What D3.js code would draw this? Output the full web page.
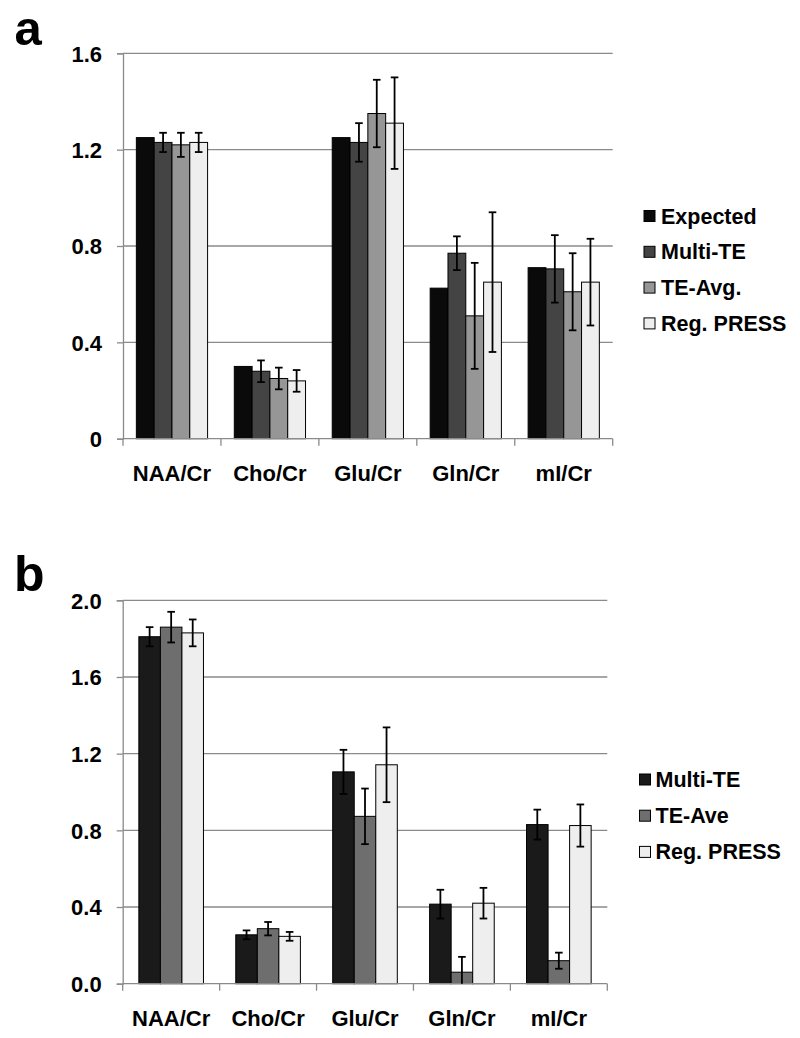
<!DOCTYPE html>
<html><head><meta charset="utf-8">
<script src="https://cdn.jsdelivr.net/npm/d3@7"></script>
<style>body{margin:0;background:#fff}svg{display:block}text{font-family:"Liberation Sans",Arial,sans-serif;font-weight:bold;fill:#000}</style>
</head><body>
<script>
const categories = ["NAA/Cr","Cho/Cr","Glu/Cr","Gln/Cr","mI/Cr"];

// Panel a
const seriesA = ["Expected","Multi-TE","TE-Avg.","Reg. PRESS"];
const colorsA = ["#0a0a0a","#444444","#969696","#eeeeee"];
const expectedA = [1.25,0.30,1.25,0.625,0.71];
const multiTEA = [1.23,0.28,1.23,0.77,0.705];
const teAvgA = [1.22,0.25,1.35,0.51,0.61];
const regPressA = [1.23,0.24,1.31,0.65,0.65];
const errExpectedA = [null,null,null,null,null];
const errMultiTEA = [0.04,0.045,0.08,0.07,0.14];
const errTeAvgA = [0.05,0.045,0.14,0.22,0.16];
const errRegPressA = [0.04,0.045,0.19,0.29,0.18];
const ticksA = [0,0.4,0.8,1.2,1.6];
const tickLabelsA = ["0","0.4","0.8","1.2","1.6"];

// Panel b
const seriesB = ["Multi-TE","TE-Ave","Reg. PRESS"];
const colorsB = ["#1a1a1a","#6e6e6e","#eeeeee"];
const multiTEB = [1.81,0.255,1.105,0.415,0.83];
const teAveB = [1.86,0.287,0.873,0.06,0.12];
const regPressB = [1.83,0.247,1.142,0.42,0.825];
const errMultiTEB = [0.05,0.023,0.115,0.075,0.078];
const errTeAveB = [0.08,0.035,0.145,0.08,0.042];
const errRegPressB = [0.07,0.023,0.195,0.08,0.11];
const ticksB = [0,0.4,0.8,1.2,1.6,2.0];
const tickLabelsB = ["0.0","0.4","0.8","1.2","1.6","2.0"];

const svg = d3.select("body").append("svg").attr("width",800).attr("height",1038);

function panel(cfg){
  const g = svg.append("g");
  const x0 = d3.scaleBand().domain(categories).range([cfg.left,cfg.right]).padding(0);
  const bw = x0.bandwidth();
  const n = cfg.series.length;
  const w = bw/(n+1.5);
  const x1 = d3.scaleBand().domain(cfg.series).range([0.75*w, bw-0.75*w]).padding(0);
  const y = d3.scaleLinear().domain([0,cfg.max]).range([cfg.bottom,cfg.top]);

  // gridlines
  g.append("g").selectAll("line").data(cfg.ticks.filter(t=>t>0)).join("line")
    .attr("x1",cfg.left).attr("x2",cfg.right)
    .attr("y1",d=>y(d)).attr("y2",d=>y(d))
    .attr("stroke","#8a8a8a").attr("stroke-width",1.3);

  // y axis
  const ya = d3.axisLeft(y).tickValues(cfg.ticks).tickSize(6).tickPadding(15)
    .tickFormat((d,i)=>cfg.tickLabels[i]);
  const yg = g.append("g").attr("transform",`translate(${cfg.left},0)`).call(ya);
  yg.select(".domain").attr("stroke","#8a8a8a").attr("stroke-width",1.3);
  yg.selectAll(".tick line").attr("stroke","#8a8a8a").attr("stroke-width",1.3);
  yg.selectAll(".tick text").attr("font-size",22).attr("font-family","Liberation Sans, Arial, sans-serif").attr("font-weight","bold").attr("fill","#000").attr("dy","0.35em");

  // bars
  const data = [];
  categories.forEach((c,ci)=>cfg.series.forEach((s,si)=>data.push({c,s,si,v:cfg.values[si][ci],e:cfg.errors[si][ci]})));
  g.append("g").selectAll("rect").data(data).join("rect")
    .attr("x",d=>x0(d.c)+x1(d.s)).attr("width",x1.bandwidth())
    .attr("y",d=>y(d.v)).attr("height",d=>y(0)-y(d.v))
    .attr("fill",d=>cfg.colors[d.si]).attr("stroke","#000").attr("stroke-width",1);

  // x axis
  const xa = g.append("g");
  xa.append("line").attr("x1",cfg.left).attr("x2",cfg.right).attr("y1",y(0)).attr("y2",y(0))
    .attr("stroke","#8a8a8a").attr("stroke-width",1.3);
  const bounds = categories.map(c=>x0(c)).concat([cfg.right]);
  xa.selectAll("line.tk").data(bounds).join("line").attr("class","tk")
    .attr("x1",d=>d).attr("x2",d=>d).attr("y1",y(0)).attr("y2",y(0)+7)
    .attr("stroke","#8a8a8a").attr("stroke-width",1.3);
  xa.selectAll("text").data(categories).join("text")
    .attr("x",d=>x0(d)+bw/2).attr("y",cfg.labelY).attr("text-anchor","middle")
    .attr("font-size",22).text(d=>d);

  // error bars
  const eb = g.append("g").selectAll("g").data(data.filter(d=>d.e!=null)).join("g")
    .attr("stroke","#000").attr("stroke-width",1.8);
  eb.append("line").attr("x1",d=>x0(d.c)+x1(d.s)+x1.bandwidth()/2).attr("x2",d=>x0(d.c)+x1(d.s)+x1.bandwidth()/2)
    .attr("y1",d=>y(d.v+d.e)).attr("y2",d=>y(Math.max(0,d.v-d.e)));
  eb.append("line").attr("x1",d=>x0(d.c)+x1(d.s)+x1.bandwidth()/2-3.8).attr("x2",d=>x0(d.c)+x1(d.s)+x1.bandwidth()/2+3.8)
    .attr("y1",d=>y(d.v+d.e)).attr("y2",d=>y(d.v+d.e));
  eb.filter(d=>d.v-d.e>0).append("line").attr("x1",d=>x0(d.c)+x1(d.s)+x1.bandwidth()/2-3.8).attr("x2",d=>x0(d.c)+x1(d.s)+x1.bandwidth()/2+3.8)
    .attr("y1",d=>y(d.v-d.e)).attr("y2",d=>y(d.v-d.e));

  // legend
  const lg = g.append("g").selectAll("g").data(cfg.series).join("g")
    .attr("transform",(d,i)=>`translate(${cfg.legX},${cfg.legY+i*cfg.legStep})`);
  lg.append("rect").attr("x",0.5).attr("y",-5.5).attr("width",11).attr("height",11)
    .attr("fill",(d,i)=>cfg.colors[i]).attr("stroke","#000").attr("stroke-width",1);
  lg.append("text").attr("x",cfg.legTextX).attr("y",0).attr("dy","0.35em").attr("font-size",21.5).text(d=>d);

  // panel letter
  g.append("text").attr("x",cfg.letterX).attr("y",cfg.letterY).attr("font-size",cfg.letterSize).text(cfg.letter);
}

panel({series:seriesA,colors:colorsA,values:[expectedA,multiTEA,teAvgA,regPressA],
  errors:[errExpectedA,errMultiTEA,errTeAvgA,errRegPressA],ticks:ticksA,tickLabels:tickLabelsA,
  max:1.6,left:123,right:612.7,top:53.3,bottom:438.7,labelY:481,
  legX:643.5,legY:216,legStep:35.8,legTextX:17.5,letter:"a",letterX:14.5,letterY:45,letterSize:49});

panel({series:seriesB,colors:colorsB,values:[multiTEB,teAveB,regPressB],
  errors:[errMultiTEB,errTeAveB,errRegPressB],ticks:ticksB,tickLabels:tickLabelsB,
  max:2.0,left:122.7,right:607.3,top:600.3,bottom:983.7,labelY:1026,
  legX:639,legY:779.5,legStep:36.2,legTextX:16.5,letter:"b",letterX:14,letterY:591,letterSize:50});
</script>
</body></html>
